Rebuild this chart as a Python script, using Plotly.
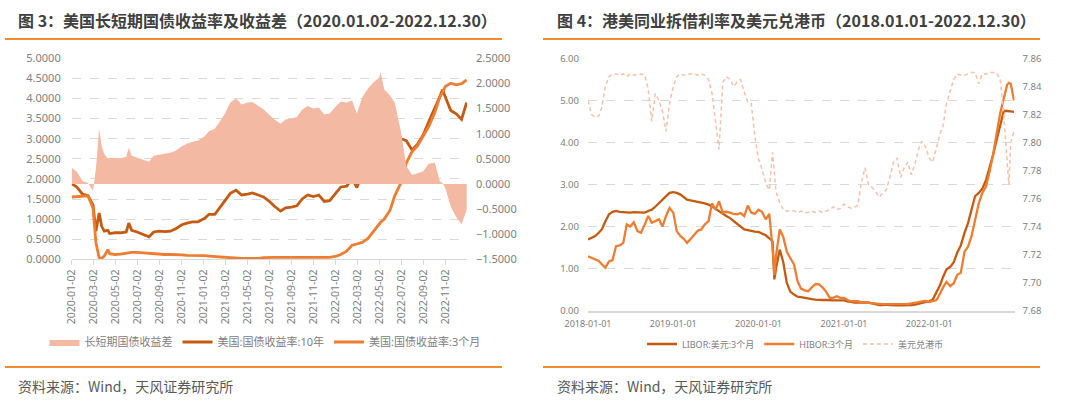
import plotly.graph_objects as go

# ---------------- Left chart data (图3) ----------------
left_dates = [
    "2020-01-02", "2020-01-16", "2020-02-01", "2020-02-16", "2020-03-01", "2020-03-09", "2020-03-18",
    "2020-03-25", "2020-04-01", "2020-04-11", "2020-04-16", "2020-05-01", "2020-05-16", "2020-06-01",
    "2020-06-08", "2020-06-16", "2020-07-01", "2020-07-16", "2020-08-03", "2020-08-16", "2020-09-01",
    "2020-09-16", "2020-10-01", "2020-10-16", "2020-11-02", "2020-11-16", "2020-12-01", "2020-12-16",
    "2021-01-04", "2021-01-16", "2021-02-01", "2021-02-16", "2021-03-01", "2021-03-16", "2021-04-01",
    "2021-04-16", "2021-05-03", "2021-05-16", "2021-06-01", "2021-06-16", "2021-07-01", "2021-07-16",
    "2021-08-02", "2021-08-16", "2021-09-01", "2021-09-16", "2021-10-01", "2021-10-16", "2021-11-01",
    "2021-11-16", "2021-12-01", "2021-12-16",
    "2022-01-03", "2022-01-16", "2022-02-01", "2022-02-16", "2022-03-01", "2022-03-16", "2022-04-01",
    "2022-04-16", "2022-05-02", "2022-05-06", "2022-05-16", "2022-06-01", "2022-06-14", "2022-07-01",
    "2022-07-16", "2022-08-01", "2022-08-16", "2022-09-01", "2022-09-16", "2022-10-03", "2022-10-17",
    "2022-10-24", "2022-11-01", "2022-11-16", "2022-12-01", "2022-12-16", "2022-12-30",
]
us_10y = [
    1.88, 1.80, 1.62, 1.58, 1.35, 0.70, 1.15, 0.82, 0.70, 0.72, 0.64, 0.66, 0.66, 0.68,
    0.90, 0.72, 0.68, 0.63, 0.56, 0.68, 0.70, 0.69, 0.70, 0.76, 0.86, 0.90, 0.93, 0.93,
    1.02, 1.12, 1.12, 1.30, 1.45, 1.64, 1.72, 1.60, 1.62, 1.65, 1.60, 1.55, 1.45, 1.32,
    1.20, 1.28, 1.30, 1.33, 1.50, 1.60, 1.56, 1.60, 1.44, 1.46,
    1.66, 1.80, 1.82, 2.02, 1.78, 2.12, 2.50, 2.82, 3.02, 3.08, 2.86, 2.92, 3.42, 3.00,
    2.95, 2.72, 2.86, 3.10, 3.42, 3.75, 4.05, 4.22, 4.05, 3.70, 3.62, 3.48, 3.90,
]
us_3m = [
    1.55, 1.56, 1.57, 1.58, 1.27, 0.42, 0.04, 0.02, 0.08, 0.24, 0.14, 0.12, 0.13, 0.15,
    0.17, 0.17, 0.17, 0.16, 0.14, 0.14, 0.13, 0.12, 0.12, 0.12, 0.11, 0.10, 0.10, 0.09,
    0.09, 0.08, 0.07, 0.05, 0.05, 0.03, 0.03, 0.02, 0.02, 0.02, 0.02, 0.04, 0.05, 0.05,
    0.05, 0.05, 0.05, 0.05, 0.04, 0.05, 0.05, 0.05, 0.05, 0.05,
    0.08, 0.12, 0.20, 0.35, 0.38, 0.42, 0.52, 0.68, 0.88, 0.92, 1.00, 1.22, 1.58, 1.90,
    2.40, 2.68, 2.82, 3.05, 3.30, 3.65, 4.05, 4.15, 4.30, 4.38, 4.34, 4.37, 4.46,
]
yield_spread = [
    0.32, 0.24, 0.06, 0.02, -0.14, 0.30, 1.10, 0.75, 0.60, 0.50, 0.52, 0.52, 0.51, 0.54,
    0.72, 0.56, 0.52, 0.48, 0.44, 0.56, 0.58, 0.59, 0.62, 0.66, 0.75, 0.80, 0.84, 0.86,
    0.95, 1.05, 1.10, 1.25, 1.40, 1.62, 1.70, 1.58, 1.62, 1.63, 1.56, 1.48, 1.38, 1.28,
    1.20, 1.28, 1.30, 1.33, 1.48, 1.55, 1.50, 1.52, 1.38, 1.40,
    1.55, 1.64, 1.62, 1.66, 1.40, 1.72, 1.90, 2.02, 2.12, 2.22, 1.88, 1.76, 1.62, 1.05,
    0.35, 0.18, 0.21, 0.25, 0.40, 0.42, 0.05, 0.02, -0.08, -0.45, -0.66, -0.80, -0.52,
]
left_ticks = [
    "2020-01-02", "2020-03-02", "2020-05-02", "2020-07-02", "2020-09-02", "2020-11-02",
    "2021-01-02", "2021-03-02", "2021-05-02", "2021-07-02", "2021-09-02", "2021-11-02",
    "2022-01-02", "2022-03-02", "2022-05-02", "2022-07-02", "2022-09-02", "2022-11-02",
]

# ---------------- Right chart data (图4) ----------------
right_dates = [
    "2018-01-01", "2018-01-16", "2018-02-01", "2018-02-16", "2018-03-01", "2018-03-16",
    "2018-04-01", "2018-04-16", "2018-05-01", "2018-05-16", "2018-06-01", "2018-06-16",
    "2018-07-01", "2018-07-16", "2018-08-01", "2018-08-16", "2018-09-01", "2018-09-16",
    "2018-10-01", "2018-10-16", "2018-11-01", "2018-11-16", "2018-12-01", "2018-12-16",
    "2019-01-01", "2019-01-16", "2019-02-01", "2019-02-16", "2019-03-01", "2019-03-16",
    "2019-04-01", "2019-04-16", "2019-05-01", "2019-05-16", "2019-06-01", "2019-06-16",
    "2019-07-01", "2019-07-16", "2019-08-01", "2019-08-16", "2019-09-01", "2019-09-16",
    "2019-10-01", "2019-10-16", "2019-11-01", "2019-11-16", "2019-12-01", "2019-12-16",
    "2020-01-01", "2020-01-16", "2020-02-01", "2020-02-16", "2020-03-01", "2020-03-09",
    "2020-03-16", "2020-04-01", "2020-04-16", "2020-05-01", "2020-05-16", "2020-06-01",
    "2020-06-16", "2020-07-01", "2020-07-16", "2020-08-01", "2020-08-16", "2020-09-01",
    "2020-09-16", "2020-10-01", "2020-10-16", "2020-11-01", "2020-11-16", "2020-12-01",
    "2020-12-16",
    "2021-01-01", "2021-01-16", "2021-02-01", "2021-02-16", "2021-03-01", "2021-03-16",
    "2021-04-01", "2021-04-16", "2021-05-01", "2021-05-16", "2021-06-01", "2021-06-16",
    "2021-07-01", "2021-07-16", "2021-08-01", "2021-08-16", "2021-09-01", "2021-09-16",
    "2021-10-01", "2021-10-16", "2021-11-01", "2021-11-16", "2021-12-01", "2021-12-16",
    "2022-01-01", "2022-01-16", "2022-02-01", "2022-02-16", "2022-03-01", "2022-03-16",
    "2022-04-01", "2022-04-16", "2022-05-01", "2022-05-16", "2022-06-01", "2022-06-16",
    "2022-07-01", "2022-07-16", "2022-08-01", "2022-08-16", "2022-09-01", "2022-09-16",
    "2022-10-01", "2022-10-16", "2022-11-01", "2022-11-16", "2022-12-01", "2022-12-08",
    "2022-12-16", "2022-12-30",
]
libor_3m = [
    1.69, 1.72, 1.77, 1.85, 1.93, 2.12, 2.29, 2.35, 2.37, 2.35, 2.34, 2.33,
    2.33, 2.34, 2.34, 2.33, 2.33, 2.37, 2.40, 2.47, 2.56, 2.65, 2.74, 2.80,
    2.82, 2.80, 2.76, 2.70, 2.64, 2.62, 2.60, 2.59, 2.58, 2.55, 2.52, 2.48,
    2.42, 2.36, 2.30, 2.25, 2.20, 2.14, 2.08, 2.00, 1.93, 1.91, 1.89, 1.88,
    1.87, 1.83, 1.79, 1.72, 1.65, 0.74, 1.00, 1.45, 1.15, 0.66, 0.45, 0.38,
    0.33, 0.32, 0.30, 0.28, 0.27, 0.26, 0.25, 0.25, 0.25, 0.24, 0.24, 0.24,
    0.24,
    0.24, 0.22, 0.20, 0.19, 0.19, 0.19, 0.20, 0.19, 0.17, 0.15, 0.13, 0.13,
    0.14, 0.13, 0.12, 0.12, 0.12, 0.12, 0.13, 0.13, 0.14, 0.16, 0.18, 0.21,
    0.22, 0.26, 0.45, 0.60, 0.80, 0.98, 1.04, 1.15, 1.38, 1.55, 1.85, 2.08,
    2.40, 2.72, 2.80, 2.90, 3.10, 3.38, 3.70, 4.05, 4.40, 4.75, 4.75, 4.75,
    4.74, 4.73,
]
hibor_3m = [
    1.29, 1.25, 1.21, 1.18, 1.10, 1.02, 1.17, 1.20, 1.53, 1.55, 1.61, 2.05,
    2.00, 2.10, 1.89, 1.85, 2.05, 2.25, 2.09, 2.12, 2.17, 2.00, 2.25, 2.44,
    2.33, 1.89, 1.77, 1.70, 1.61, 1.70, 1.81, 1.90, 1.93, 2.05, 2.13, 2.55,
    2.40, 2.60, 2.33, 2.35, 2.33, 2.30, 2.29, 2.32, 2.25, 2.50, 2.33, 2.30,
    2.40, 2.35, 2.17, 2.30, 1.50, 0.85, 1.30, 1.93, 1.75, 1.40, 1.25, 1.10,
    0.70, 0.52, 0.48, 0.46, 0.55, 0.63, 0.62, 0.55, 0.45, 0.30, 0.30, 0.34,
    0.30,
    0.30, 0.25, 0.22, 0.22, 0.22, 0.20, 0.20, 0.18, 0.17, 0.16, 0.15, 0.15,
    0.15, 0.15, 0.15, 0.15, 0.15, 0.15, 0.16, 0.17, 0.18, 0.20, 0.22, 0.23,
    0.20, 0.22, 0.25, 0.40, 0.55, 0.68, 0.58, 0.65, 0.85, 0.90, 1.40, 1.52,
    1.77, 2.15, 2.55, 2.80, 2.95, 3.30, 3.70, 4.20, 4.70, 5.05, 5.38, 5.42,
    5.40, 5.00,
]
usd_hkd = [
    7.830, 7.820, 7.818, 7.819, 7.825, 7.840, 7.847, 7.849, 7.849, 7.848, 7.849, 7.847,
    7.849, 7.848, 7.849, 7.849, 7.848, 7.838, 7.815, 7.835, 7.830, 7.822, 7.808, 7.828,
    7.840, 7.847, 7.849, 7.848, 7.849, 7.849, 7.849, 7.848, 7.849, 7.848, 7.845, 7.835,
    7.815, 7.795, 7.843, 7.847, 7.845, 7.840, 7.843, 7.845, 7.836, 7.829, 7.828, 7.805,
    7.788, 7.781, 7.771, 7.766, 7.793, 7.775, 7.765, 7.757, 7.752, 7.751, 7.751, 7.751,
    7.750, 7.751, 7.750, 7.750, 7.751, 7.750, 7.751, 7.750, 7.751, 7.752, 7.754, 7.752,
    7.753,
    7.756, 7.754, 7.753, 7.754, 7.755, 7.771, 7.782, 7.770, 7.768, 7.765, 7.761, 7.764,
    7.766, 7.775, 7.786, 7.789, 7.775, 7.782, 7.786, 7.777, 7.785, 7.795, 7.801, 7.797,
    7.789, 7.786, 7.797, 7.806, 7.812, 7.828, 7.837, 7.845, 7.849, 7.848, 7.848, 7.849,
    7.850, 7.850, 7.842, 7.849, 7.849, 7.850, 7.850, 7.850, 7.845, 7.820, 7.785, 7.770,
    7.800, 7.808,
]
right_ticks = ["2018-01-01", "2019-01-01", "2020-01-01", "2021-01-01", "2022-01-01"]

# ---------------- Styling ----------------
W, H = 1080, 406
DARK = "#C55A11"
BRIGHT = "#ED7D31"
FILL = "#F3B9A2"
HKD = "#F6C0AA"
GRID = "#D9D9D9"
TICK = "#808080"
ORANGE_RULE = "#F28C28"
FONT = "Noto Sans, Noto Sans CJK SC, sans-serif"


def px_x(x):
    return x / W


def px_y(y):
    return 1 - y / H


fig = go.Figure()

# left chart traces
fig.add_trace(go.Scatter(
    x=left_dates, y=yield_spread, xaxis="x", yaxis="y2", name="长短期国债收益差",
    mode="lines", line=dict(width=0, color=FILL), fill="tozeroy", fillcolor=FILL,
    legend="legend",
))
fig.add_trace(go.Scatter(
    x=left_dates, y=us_10y, xaxis="x", yaxis="y", name="美国:国债收益率:10年",
    mode="lines", line=dict(width=2.8, color=DARK), legend="legend",
))
fig.add_trace(go.Scatter(
    x=left_dates, y=us_3m, xaxis="x", yaxis="y", name="美国:国债收益率:3个月",
    mode="lines", line=dict(width=2.8, color=BRIGHT), legend="legend",
))

# right chart traces
fig.add_trace(go.Scatter(
    x=right_dates, y=libor_3m, xaxis="x2", yaxis="y3", name="LIBOR:美元:3个月",
    mode="lines", line=dict(width=2.3, color=DARK), legend="legend2",
))
fig.add_trace(go.Scatter(
    x=right_dates, y=hibor_3m, xaxis="x2", yaxis="y3", name="HIBOR:3个月",
    mode="lines", line=dict(width=2.3, color=BRIGHT), legend="legend2",
))
fig.add_trace(go.Scatter(
    x=right_dates, y=usd_hkd, xaxis="x2", yaxis="y4", name="美元兑港币",
    mode="lines", line=dict(width=1.5, color=HKD, dash="4px,3px"), legend="legend2",
))

L_X0, L_X1 = 71.7, 467.0
L_YTOP, L_YBOT = 58.3, 259.3
R_X0, R_X1 = 588.0, 1014.5
R_YTOP, R_YBOT = 58.5, 310.5

fig.update_layout(
    width=W, height=H,
    margin=dict(l=0, r=0, t=0, b=0, autoexpand=False),
    paper_bgcolor="white", plot_bgcolor="white",
    font=dict(family=FONT, color=TICK),
    xaxis=dict(
        domain=[px_x(L_X0), px_x(L_X1)], type="date",
        range=["2020-01-02", "2022-12-31"],
        tickvals=left_ticks, tickformat="%Y-%m-%d", tickangle=-90,
        tickfont=dict(size=10.5, color=TICK),
        showline=True, linecolor=GRID, linewidth=1,
        ticks="outside", ticklen=5, tickcolor=GRID,
        showgrid=False, zeroline=False, anchor="y", automargin=False,
    ),
    yaxis=dict(
        domain=[px_y(L_YBOT), px_y(L_YTOP)], range=[0, 5], dtick=0.5,
        tickformat=".4f", tickfont=dict(size=11, color=TICK),
        showgrid=True, gridcolor=GRID, griddash="dash", gridwidth=1,
        zeroline=False, showline=False, anchor="x", ticklabelstandoff=10,
        automargin=False,
    ),
    yaxis2=dict(
        overlaying="y", side="right", range=[-1.5, 2.5], dtick=0.5,
        tickformat=".4f", tickfont=dict(size=11, color=TICK),
        showgrid=False, zeroline=False, showline=False, anchor="x",
        ticklabelstandoff=8, automargin=False,
    ),
    xaxis2=dict(
        domain=[px_x(R_X0), px_x(R_X1)], type="date",
        range=["2018-01-01", "2023-01-01"],
        tickvals=right_ticks, tickformat="%Y-%m-%d", tickangle=0,
        tickfont=dict(size=9, color=TICK),
        showline=True, linecolor=GRID, linewidth=1.5,
        ticks="", showgrid=False, zeroline=False, anchor="y3", automargin=False,
        ticklabelstandoff=4,
    ),
    yaxis3=dict(
        domain=[px_y(R_YBOT), px_y(R_YTOP)], range=[0, 6], dtick=1,
        tickformat=".2f", tickfont=dict(size=9.5, color=TICK),
        showgrid=True, gridcolor=GRID, griddash="dash", gridwidth=1,
        zeroline=False, showline=False, anchor="x2", ticklabelstandoff=8,
        automargin=False,
    ),
    yaxis4=dict(
        overlaying="y3", side="right", range=[7.68, 7.86], dtick=0.02,
        tickformat=".2f", tickfont=dict(size=9.5, color=TICK),
        showgrid=False, zeroline=False, showline=False, anchor="x2",
        ticklabelstandoff=7, automargin=False,
    ),
    legend=dict(
        orientation="h", x=px_x(265), y=px_y(342), xanchor="center", yanchor="middle",
        font=dict(size=11, color=TICK), itemwidth=30, bgcolor="rgba(0,0,0,0)",
        tracegroupgap=0,
    ),
    legend2=dict(
        orientation="h", x=px_x(795), y=px_y(344), xanchor="center", yanchor="middle",
        font=dict(size=9, color=TICK), itemwidth=30, bgcolor="rgba(0,0,0,0)",
    ),
    showlegend=True,
)

# titles, rules and source notes
for x0, title in [
    (16, "<b>图 3：美国长短期国债收益率及收益差（2020.01.02-2022.12.30）</b>"),
    (555, "<b>图 4：港美同业拆借利率及美元兑港币（2018.01.01-2022.12.30）</b>"),
]:
    fig.add_annotation(
        x=px_x(x0), y=px_y(20), xref="paper", yref="paper", text=title,
        showarrow=False, xanchor="left", yanchor="middle",
        font=dict(size=16, color="#404040", family="Noto Sans CJK SC, sans-serif"),
    )
for x0 in (16, 555):
    fig.add_annotation(
        x=px_x(x0), y=px_y(386), xref="paper", yref="paper", text="资料来源：Wind，天风证券研究所",
        showarrow=False, xanchor="left", yanchor="middle",
        font=dict(size=14, color="#595959", family="Noto Sans CJK SC, sans-serif"),
    )
for (xa, xb) in [(5, 502), (543, 1040)]:
    for yy in (39, 367):
        fig.add_shape(
            type="line", xref="paper", yref="paper",
            x0=px_x(xa), x1=px_x(xb), y0=px_y(yy), y1=px_y(yy),
            line=dict(color=ORANGE_RULE, width=2),
        )

fig.write_html(
    "out.html",
    config={"displayModeBar": False},
    post_script="document.body.style.margin='0px';",
)
